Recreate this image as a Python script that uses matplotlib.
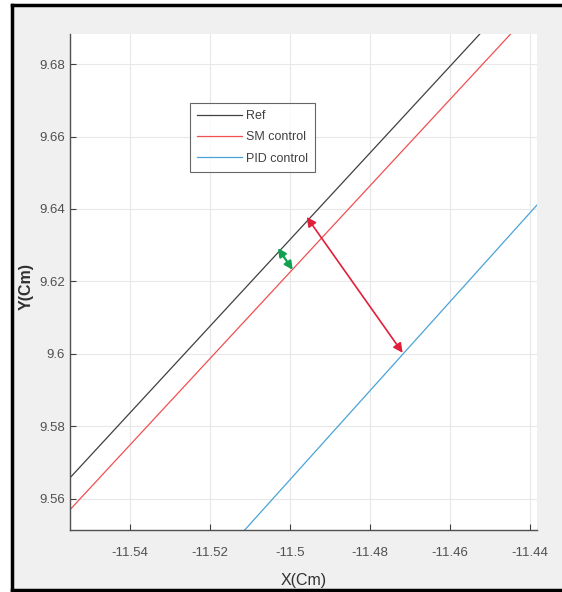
import matplotlib
matplotlib.use('Agg')
import matplotlib.pyplot as plt
from matplotlib.patches import Rectangle
from matplotlib.lines import Line2D
from matplotlib.ticker import FuncFormatter

plt.rcParams['font.family'] = ['Liberation Sans', 'DejaVu Sans']

# line end points (straight trajectories)
ref_x = [-11.555, -11.4525]
ref_y = [9.5658, 9.6883]
sm_x = [-11.555, -11.4448]
sm_y = [9.5570, 9.6883]
pid_x = [-11.5113, -11.4382]
pid_y = [9.5514, 9.6411]

# error arrows
pid_err = [(-11.4958, 9.6378), (-11.4718, 9.6003)]
sm_err = [(-11.5030, 9.6292), (-11.4993, 9.6232)]

x_ticks = [-11.54, -11.52, -11.50, -11.48, -11.46, -11.44]
y_ticks = [9.56, 9.58, 9.60, 9.62, 9.64, 9.66, 9.68]

fig = plt.figure(figsize=(5.62, 5.92), dpi=100, facecolor='white')
# gray window background with black frame
fig.patches.append(Rectangle((12 / 562, 0), 1, 1 - 5 / 592, transform=fig.transFigure,
                             facecolor='#f0f0f0', edgecolor='none', zorder=-10))
fig.lines.append(Line2D([12 / 562, 12 / 562], [2 / 592, 1 - 5 / 592], transform=fig.transFigure,
                        color='black', lw=2.5))
fig.lines.append(Line2D([12 / 562, 1], [1 - 5 / 592, 1 - 5 / 592], transform=fig.transFigure,
                        color='black', lw=2.5))
fig.lines.append(Line2D([12 / 562, 1], [2 / 592, 2 / 592], transform=fig.transFigure,
                        color='black', lw=2.5))

ax = fig.add_axes([70 / 562, 1 - 530 / 592, 467 / 562, 496 / 592])
ax.set_facecolor('white')

ax.plot(ref_x, ref_y, color='#404040', lw=0.9, label='Ref')
ax.plot(sm_x, sm_y, color='#f05050', lw=0.9, label='SM control')
ax.plot(pid_x, pid_y, color='#4aa3d8', lw=0.9, label='PID control')

ax.annotate('', xy=pid_err[0], xytext=pid_err[1],
            arrowprops=dict(arrowstyle='<|-|>', color='#e0203a', lw=1.2,
                            mutation_scale=14, shrinkA=0, shrinkB=0))
ax.annotate('', xy=sm_err[0], xytext=sm_err[1],
            arrowprops=dict(arrowstyle='<|-|>', color='#10a050', lw=1.6,
                            mutation_scale=12, shrinkA=0, shrinkB=0))

ax.set_xlim(-11.555, -11.4382)
ax.set_ylim(9.5514, 9.6883)
ax.set_xticks(x_ticks)
ax.set_yticks(y_ticks)
fmt = FuncFormatter(lambda v, p: '%g' % round(v, 4))
ax.xaxis.set_major_formatter(fmt)
ax.yaxis.set_major_formatter(fmt)
ax.tick_params(direction='in', length=4, width=0.8, colors='#404040',
               labelsize=9.5, labelcolor='#505050')
ax.tick_params(axis='x', pad=12)
ax.grid(True, color='#e8e8e8', lw=0.8)
ax.set_axisbelow(True)
for s in ['top', 'right']:
    ax.spines[s].set_visible(False)
for s in ['left', 'bottom']:
    ax.spines[s].set_color('#505050')
    ax.spines[s].set_linewidth(1.0)

ax.set_xlabel('X(Cm)', fontsize=11.5, color='#303030')
ax.set_ylabel('Y(Cm)', fontsize=11.5, color='#303030', fontweight='bold')
ax.xaxis.set_label_coords(0.5, -(573 - 530) / 496)
ax.yaxis.set_label_coords(-(70 - 34) / 467, 0.49)

leg = ax.legend(loc='upper left', bbox_to_anchor=((190 - 70) / 467, (530 - 103) / 496),
                fontsize=9, frameon=True, fancybox=False, borderpad=0.55,
                borderaxespad=0, handlelength=3.6, handletextpad=0.3,
                labelspacing=0.75, edgecolor='#404040')
leg.get_frame().set_linewidth(0.8)
for t in leg.get_texts():
    t.set_color('#404040')

fig.savefig('out.png', dpi=100, facecolor=fig.get_facecolor())
